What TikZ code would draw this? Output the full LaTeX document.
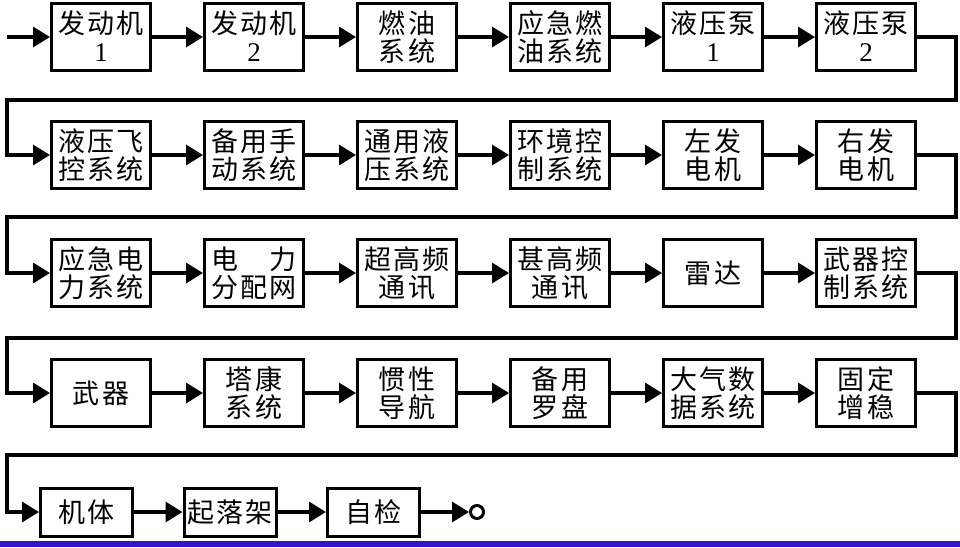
\documentclass[tikz,border=0pt]{standalone}
\usepackage{fontspec}
\setmainfont{Liberation Serif}
\newfontfamily\cjk[LetterSpace=8]{Noto Sans CJK SC}
\usetikzlibrary{arrows.meta,positioning}
\definecolor{barblue}{RGB}{50,20,195}
\newcommand{\dig}[1]{\vphantom{机}{\rmfamily #1}}
\tikzset
{
	sysnode/.style = {rectangle, draw=black, line width=3pt, align=center, minimum width=99pt, minimum height=67pt, inner sep=0pt, font=\cjk\fontsize{27pt}{28pt}\selectfont},
	lastnode/.style = {sysnode, minimum width=92pt, minimum height=48pt},
	endnode/.style  = {circle, draw=black, line width=3pt, minimum size=13pt, inner sep=0pt},
	flow/.style     = {line width=3.2pt, -{Triangle[length=17pt,width=20pt]}}
}

\begin{document}
\begin{tikzpicture}[x=1pt,y=-1pt]
\useasboundingbox (0,0) rectangle (960,547);
\fill[barblue] (0,541) rectangle (960,547);
% row 1
\node[sysnode] (a1) at (101,37) {发动机\\\dig{1}};
\node[sysnode, right=51pt of a1] (a2) {发动机\\\dig{2}};
\node[sysnode, right=51pt of a2] (a3) {燃油\\系统};
\node[sysnode, right=51pt of a3] (a4) {应急燃\\油系统};
\node[sysnode, right=51pt of a4] (a5) {液压泵\\\dig{1}};
\node[sysnode, right=51pt of a5] (a6) {液压泵\\\dig{2}};
% row 2
\node[sysnode] (b1) at (101,155) {液压飞\\控系统};
\node[sysnode, right=51pt of b1] (b2) {备用手\\动系统};
\node[sysnode, right=51pt of b2] (b3) {通用液\\压系统};
\node[sysnode, right=51pt of b3] (b4) {环境控\\制系统};
\node[sysnode, right=51pt of b4] (b5) {左发\\电机};
\node[sysnode, right=51pt of b5] (b6) {右发\\电机};
% row 3
\node[sysnode] (c1) at (101,273) {应急电\\力系统};
\node[sysnode, right=51pt of c1] (c2) {电　力\\分配网};
\node[sysnode, right=51pt of c2] (c3) {超高频\\通讯};
\node[sysnode, right=51pt of c3] (c4) {甚高频\\通讯};
\node[sysnode, right=51pt of c4] (c5) {雷达};
\node[sysnode, right=51pt of c5] (c6) {武器控\\制系统};
% row 4
\node[sysnode] (d1) at (101,393) {武器};
\node[sysnode, right=51pt of d1] (d2) {塔康\\系统};
\node[sysnode, right=51pt of d2] (d3) {惯性\\导航};
\node[sysnode, right=51pt of d3] (d4) {备用\\罗盘};
\node[sysnode, right=51pt of d4] (d5) {大气数\\据系统};
\node[sysnode, right=51pt of d5] (d6) {固定\\增稳};
% row 5
\node[lastnode] (e1) at (86.5,512) {机体};
\node[lastnode, right=48.5pt of e1] (e2) {起落架};
\node[lastnode, right=48.5pt of e2] (e3) {自检};
\node[endnode] (done) at (477,512) {};

% turning points
\coordinate (in) at (7,37);
\coordinate (r1) at (956,100);  \coordinate (l1) at (7,100);
\coordinate (r2) at (956,217);  \coordinate (l2) at (7,217);
\coordinate (r3) at (956,338);  \coordinate (l3) at (7,338);
\coordinate (r4) at (956,455);  \coordinate (l4) at (7,455);

\draw[flow] (in) -- (a1);
\foreach \r in {a,b,c,d}
	\foreach \i/\j in {1/2,2/3,3/4,4/5,5/6}
		\draw[flow] (\r\i) -- (\r\j);
\draw[flow] (a6.east) -| (r1) -- (l1) |- (b1.west);
\draw[flow] (b6.east) -| (r2) -- (l2) |- (c1.west);
\draw[flow] (c6.east) -| (r3) -- (l3) |- (d1.west);
\draw[flow] (d6.east) -| (r4) -- (l4) |- (e1.west);
\draw[flow] (e1) -- (e2);
\draw[flow] (e2) -- (e3);
\draw[flow] (e3) -- (done);
\end{tikzpicture}
\end{document}
